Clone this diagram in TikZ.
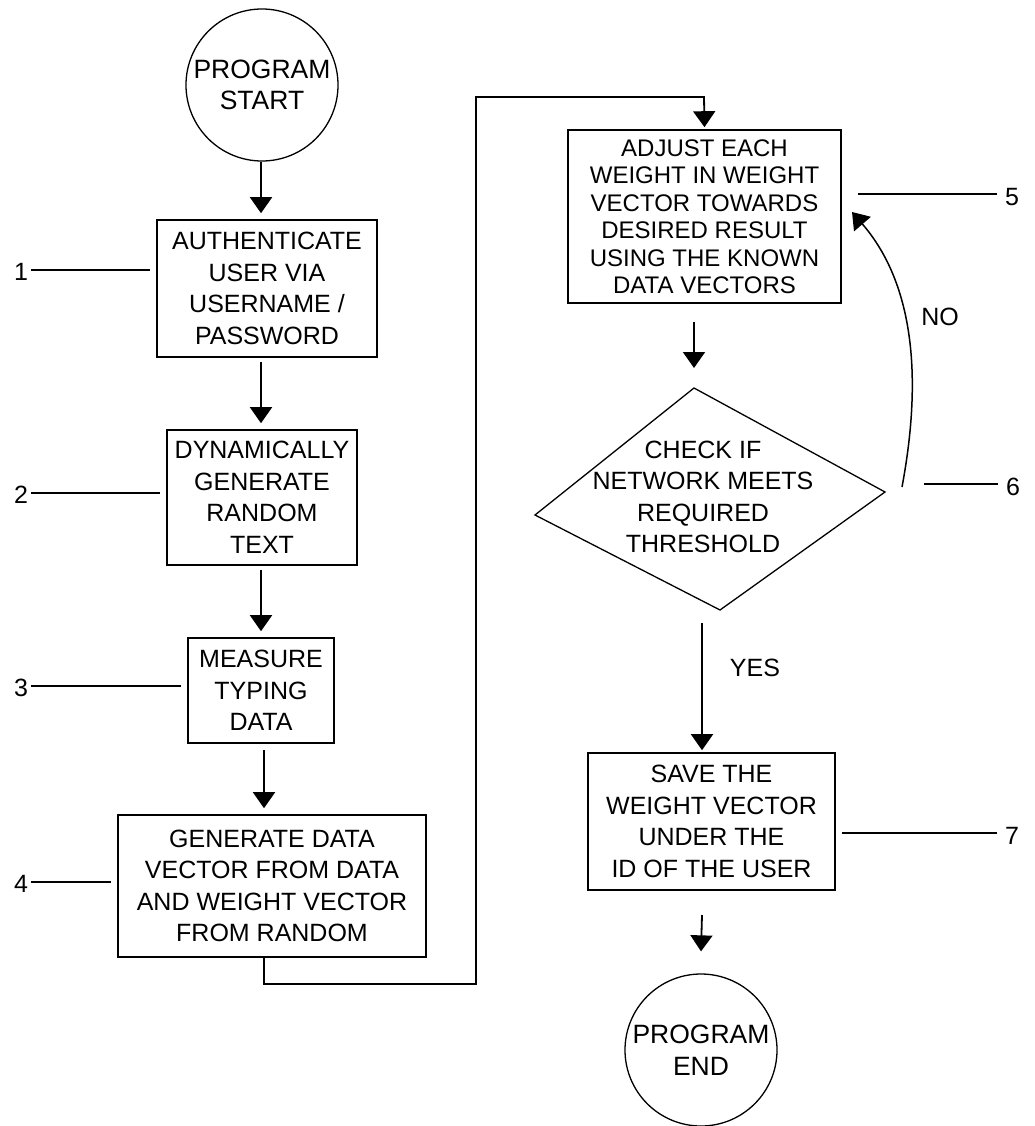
\documentclass[tikz,border=0pt]{standalone}
\usepackage{fontspec}
\setmainfont{Liberation Sans}
\usetikzlibrary{arrows.meta,calc}
\begin{document}
\begin{tikzpicture}[x=1pt,y=-1pt,
  every node/.style={font=\fontsize{25}{31.5}\selectfont, align=center, inner sep=0pt},
  box/.style={draw, line width=1.6pt, rectangle},
  term/.style={draw, circle, line width=1.3pt, minimum size=152pt, font=\fontsize{26.5}{31.5}\selectfont},
  arr/.style={line width=1.8pt, -{Triangle[width=22pt,length=16pt]}},
  ln/.style={line width=1.8pt},
  thin/.style={line width=1.3pt}]
\useasboundingbox (0,0) rectangle (1035,1126);

% left column
\node[term] (start) at (262,85) {PROGRAM\\START};
\node[box, minimum width=220pt, minimum height=137pt] (b1) at (267,288.5)
  {AUTHENTICATE\\USER VIA\\USERNAME /\\PASSWORD};
\node[box, minimum width=190pt, minimum height=135pt] (b2) at (262,497.5)
  {DYNAMICALLY\\GENERATE\\RANDOM\\TEXT};
\node[box, minimum width=146pt, minimum height=105pt] (b3) at (261,690.5)
  {MEASURE\\TYPING\\DATA};
\node[box, minimum width=308pt, minimum height=142pt] (b4) at (272,886)
  {GENERATE DATA\\VECTOR FROM DATA\\AND WEIGHT VECTOR\\FROM RANDOM};

% right column
\node[box, minimum width=273pt, minimum height=173pt, font=\fontsize{24}{27.5}\selectfont] (b5) at (704.5,216.5)
  {ADJUST EACH\\WEIGHT IN WEIGHT\\VECTOR TOWARDS\\DESIRED RESULT\\USING THE KNOWN\\DATA VECTORS};
\coordinate (dT) at (694,388);
\coordinate (dR) at (885,492);
\coordinate (dB) at (720,610);
\coordinate (dL) at (535,515);
\draw[thin] (dT) -- (dR) -- (dB) -- (dL) -- cycle;
\node (dia) at (703,497) {CHECK IF\\NETWORK MEETS\\REQUIRED\\THRESHOLD};
\node[box, minimum width=247pt, minimum height=137pt] (b7) at (711.5,821.5)
  {SAVE THE\\WEIGHT VECTOR\\UNDER THE\\ID OF THE USER};
\node[term] (end) at (701,1050) {PROGRAM\\END};

% arrows left
\draw[arr] (start.south -| 261,0) -- ([yshift=6pt]b1.north -| 261,0);
\coordinate (a1s) at (261,362);
\draw[arr] (a1s) -- ([yshift=6pt]b2.north -| a1s);
\coordinate (a2s) at (261,570);
\draw[arr] (a2s) -- ([yshift=6pt]b3.north -| a2s);
\coordinate (a3s) at (264,750);
\draw[arr] (a3s) -- ([yshift=6pt]b4.north -| a3s);

% long connector
\coordinate (c1) at (476,984);
\coordinate (c2) at (704,97);
\draw[arr] (b4.south -| 264,0) |- (c1) |- (c2) -- ([yshift=2pt]b5.north);

% right arrows
\coordinate (a5s) at (694,322);
\draw[arr] (a5s) -- ([yshift=20pt]dT);
\coordinate (ys) at (702,623);
\draw[arr] (ys) -- ([yshift=2pt]b7.north -| 702,0);
\node (yes) at (755,668) {YES};
\coordinate (a7s) at (702,915);
\draw[arr] (a7s) -- ([yshift=22pt]end.north);

% NO loop
\coordinate (ns) at (902,487);
\coordinate (ne) at (852,212);
\draw[ln, line width=1.5pt, -{Triangle[width=22pt,length=16pt]}] (ns) .. controls (922,380) and (915,285) .. (ne);
\node (no) at (940,317) {NO};

% labels
\node (n1) at (21,272) {1};
\node (n2) at (21,495) {2};
\node (n3) at (21,688) {3};
\node (n4) at (21,884) {4};
\node (n5) at (1012,197) {5};
\node (n6) at (1013,487) {6};
\node (n7) at (1012,836) {7};
\draw[ln] ([xshift=3pt]n1.east |- 0,270) -- ([xshift=-6pt]b1.west |- 0,270);
\draw[ln] ([xshift=3pt]n2.east |- 0,493) -- ([xshift=-6pt]b2.west |- 0,493);
\draw[ln] ([xshift=3pt]n3.east |- 0,686) -- ([xshift=-6pt]b3.west |- 0,686);
\draw[ln] ([xshift=3pt]n4.east |- 0,882) -- ([xshift=-6pt]b4.west |- 0,882);
\coordinate (l5) at (858,194);
\draw[ln] (l5) -- ([xshift=-8pt]n5.west |- 0,194);
\coordinate (l6) at (924,484);
\draw[ln] (l6) -- ([xshift=-8pt]n6.west |- 0,484);
\draw[ln] ([xshift=6pt]b7.east |- 0,833) -- ([xshift=-8pt]n7.west |- 0,833);
\end{tikzpicture}
\end{document}
